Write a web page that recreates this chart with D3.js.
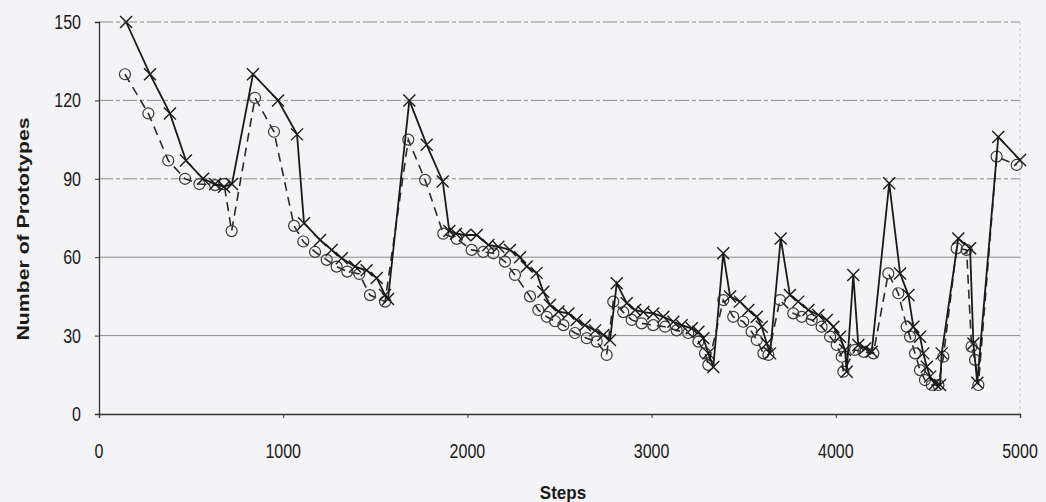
<!DOCTYPE html>
<html>
<head>
<meta charset="utf-8">
<script src="https://cdn.jsdelivr.net/npm/d3@7"></script>
<style>
  html, body { margin: 0; padding: 0; background: #f4f4f6; }
  svg { display: block; }
  text { font-family: "Liberation Sans", Arial, sans-serif; fill: #1a1a1a; }
</style>
</head>
<body>
<svg id="chart" width="1046" height="502"></svg>
<script>
// Prototype counts over training steps: solid series (x markers)
const stepsA = [147, 277, 385, 472, 565, 630, 679, 722, 836, 972, 1075, 1113, 1200, 1263, 1318, 1390, 1453, 1508, 1553, 1569,
  1685, 1779, 1866, 1902, 1938, 1987, 2051, 2114, 2168, 2231, 2286, 2322, 2376, 2412, 2448, 2494, 2548, 2593, 2638, 2693, 2738, 2774,
  2811, 2865, 2910, 2955, 3009, 3064, 3118, 3163, 3218, 3254, 3281, 3308, 3335,
  3389, 3426, 3480, 3525, 3571, 3598, 3625, 3643,
  3701, 3751, 3796, 3851, 3905, 3951, 3987, 4023, 4050, 4059,
  4095, 4122, 4159, 4195,
  4290, 4349, 4394, 4421, 4457, 4475, 4494, 4512, 4539, 4566, 4575,
  4665, 4729, 4747, 4768, 4882, 5000];
const valuesA = [150, 130, 115, 97, 90, 88, 87, 88, 130, 120, 107, 73, 66.6, 62.8, 59.6, 56.4, 55, 52, 45.5, 44,
  120, 103, 89, 70, 69, 68.5, 68.5, 64.7, 64, 62.8, 60, 56.4, 54, 46.8, 41.7, 39.2, 38.5, 36, 34, 32, 30.2, 28.3,
  50, 42.4, 39.8, 39, 38.5, 37.2, 35.3, 34, 32.8, 31.5, 29, 23.2, 18,
  61.5, 45, 43, 39.8, 37.2, 33.4, 27, 23.2,
  67.2, 45.5, 43, 39.8, 37.9, 36, 33.4, 29.6, 24.5, 16.2,
  53.2, 26.4, 25.1, 23.8,
  88.3, 53.8, 45.5, 33.4, 29.6, 23.2, 18.1, 14.3, 11.7, 11.1, 23.2,
  67.2, 63.4, 27, 12, 106, 97.2];

// Second series (dashed line, circle markers)
const stepsB = [141, 268, 376, 467, 545, 630, 679, 720, 847, 950, 1059, 1109, 1173, 1236, 1290, 1348, 1413, 1471, 1553,
  1679, 1770, 1869, 1942, 2023, 2086, 2141, 2204, 2258, 2340, 2385, 2431, 2476, 2521, 2584, 2648, 2702, 2756,
  2792, 2846, 2892, 2946, 3009, 3073, 3136, 3199, 3254, 3290, 3308,
  3389, 3443, 3498, 3543, 3571, 3607, 3634,
  3697, 3769, 3815, 3869, 3923, 3969, 4005, 4032, 4041,
  4104, 4150, 4204,
  4285, 4339, 4385, 4403, 4430, 4457, 4484, 4521, 4557, 4584,
  4656, 4710, 4737, 4756, 4774, 4873, 4982];
const valuesB = [130, 115, 97, 90, 88, 87.6, 88, 70, 121, 108, 72, 66, 62, 59, 56.4, 54.5, 53.6, 45.5, 43,
  105, 89.6, 69, 67, 62.8, 62, 61.5, 58.3, 53.2, 45, 39.8, 37.2, 35.5, 34, 31, 29, 27.7, 22.6,
  43, 39, 36, 34.7, 34, 33.4, 32, 31, 27.7, 23.2, 18.8,
  43.6, 37.2, 35.3, 31.5, 28.3, 23.2, 22.6,
  43.6, 38.5, 37.2, 36, 33.4, 29.6, 26.4, 21.9, 16.2,
  24.5, 23.8, 23.2,
  53.8, 46.2, 33.4, 29.6, 23.2, 16.8, 13, 11.1, 11.1, 21.9,
  63.4, 62.8, 25.8, 20.7, 11.1, 98.5, 95.3];

const xTicks = [0, 1000, 2000, 3000, 4000, 5000];
const yTicks = [0, 30, 60, 90, 120, 150];

const svg = d3.select("#chart");
const x = d3.scaleLinear().domain([0, 5000]).range([99, 1020]);
const y = d3.scaleLinear().domain([0, 150]).range([414, 22]);
const STRETCH = 1.25; // labels are drawn tall and narrow

// horizontal gridlines
svg.append("g").selectAll("line")
  .data(yTicks.filter(d => d > 0))
  .join("line")
  .attr("x1", x(0)).attr("x2", x(5000))
  .attr("y1", d => y(d)).attr("y2", d => y(d))
  .attr("stroke", "#8c8c8c").attr("stroke-width", 1)
  .attr("stroke-dasharray", d => d >= 90 ? "14,3,4,3" : null);

// right plot border (faint)
svg.append("line")
  .attr("x1", x(5000)).attr("x2", x(5000)).attr("y1", y(150)).attr("y2", y(0))
  .attr("stroke", "#c4c4c8").attr("stroke-width", 1).attr("stroke-dasharray", "3,3");

// axes (lines and tick marks from d3, labels drawn separately)
const xAxis = svg.append("g").attr("transform", `translate(0,${y(0)})`)
  .call(d3.axisBottom(x).tickValues(xTicks).tickFormat("").tickSize(4));
const yAxis = svg.append("g").attr("transform", `translate(${x(0)},0)`)
  .call(d3.axisLeft(y).tickValues(yTicks).tickFormat("").tickSize(4));
[xAxis, yAxis].forEach(g => {
  g.select(".domain").attr("stroke", "#333").attr("stroke-width", 1.3);
  g.selectAll(".tick line").attr("stroke", "#333");
});

svg.append("g").selectAll("text").data(xTicks).join("text")
  .attr("transform", d => `translate(${x(d)},458) scale(1,${STRETCH})`)
  .attr("text-anchor", "middle").attr("font-size", 16).text(d3.format("d"));
svg.append("g").selectAll("text").data(yTicks).join("text")
  .attr("transform", d => `translate(81,${y(d) + 7}) scale(1,${STRETCH})`)
  .attr("text-anchor", "end").attr("font-size", 16).text(d3.format("d"));

// axis titles
svg.append("text").attr("transform", `translate(563,499) scale(1,1.1)`)
  .attr("text-anchor", "middle").attr("font-size", 17).attr("font-weight", "bold").text("Steps");
svg.append("text").attr("transform", `translate(29,229) rotate(-90) scale(${STRETCH},1)`)
  .attr("text-anchor", "middle").attr("font-size", 17).attr("font-weight", "bold")
  .text("Number of Prototypes");

const seriesA = stepsA.map((s, i) => [s, valuesA[i]]);
const seriesB = stepsB.map((s, i) => [s, valuesB[i]]);
const line = d3.line().x(d => x(d[0])).y(d => y(d[1]));

// dashed series with open circles
svg.append("path").datum(seriesB).attr("d", line)
  .attr("fill", "none").attr("stroke", "#2a2a2a").attr("stroke-width", 1.6)
  .attr("stroke-dasharray", "9,6");
svg.append("g").selectAll("circle").data(seriesB).join("circle")
  .attr("cx", d => x(d[0])).attr("cy", d => y(d[1])).attr("r", 5.5)
  .attr("fill", "none").attr("stroke", "#3a3a3a").attr("stroke-width", 1.2);

// solid series with x markers
svg.append("path").datum(seriesA).attr("d", line)
  .attr("fill", "none").attr("stroke", "#1a1a1a").attr("stroke-width", 1.8);
const s = 6;
svg.append("g").selectAll("path").data(seriesA).join("path")
  .attr("d", d => {
    const cx = x(d[0]), cy = y(d[1]);
    return `M${cx - s},${cy - s}L${cx + s},${cy + s}M${cx - s},${cy + s}L${cx + s},${cy - s}`;
  })
  .attr("stroke", "#1a1a1a").attr("stroke-width", 1.4).attr("fill", "none");
</script>
</body>
</html>
